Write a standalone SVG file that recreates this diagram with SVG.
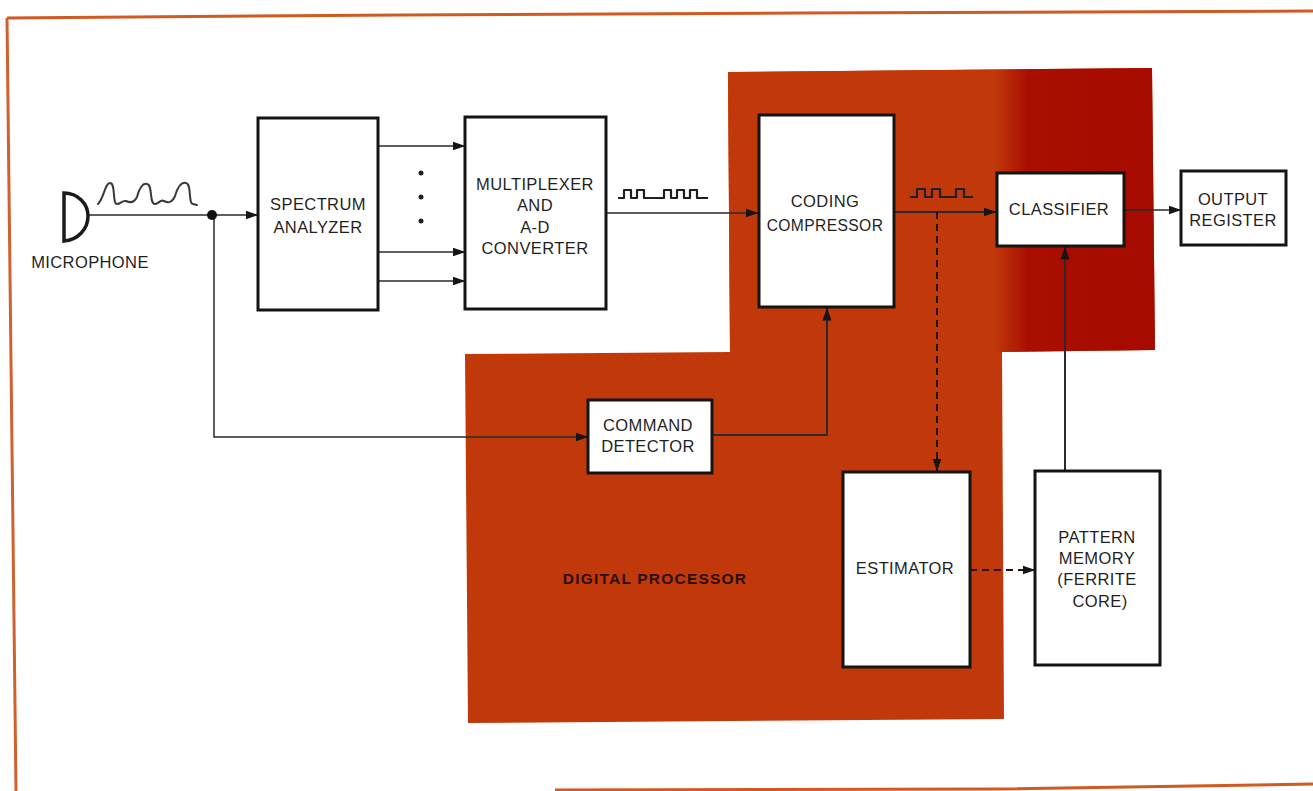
<svg xmlns="http://www.w3.org/2000/svg" width="1313" height="791" viewBox="0 0 1313 791">
<style>
.b{fill:#fff;stroke:#141414;stroke-width:3}
.t{font-family:"Liberation Sans",Arial,sans-serif;font-size:16.5px;fill:#1f1f1f;text-anchor:middle;letter-spacing:.4px}
.c{fill:none;stroke:#2a2a2a;stroke-width:1.5}
.k{fill:none;stroke:#1f1f1f;stroke-width:2.2;stroke-linejoin:round}
.w{fill:none;stroke:#3a3a3a;stroke-width:2;stroke-linecap:round}
.d{fill:none;stroke:#2a1008;stroke-width:2;stroke-dasharray:7 5}
</style>
<defs>
<marker id="a" markerUnits="userSpaceOnUse" markerWidth="13" markerHeight="10" refX="12.5" refY="5" orient="auto"><path d="M0 .5L13 5L0 9.5Z" fill="#151515"/></marker>
<linearGradient id="g" gradientUnits="userSpaceOnUse" x1="720" x2="1160" y1="0" y2="0"><stop offset="0" stop-color="#c1380a"/><stop offset=".625" stop-color="#c1380a"/><stop offset=".7" stop-color="#a90e01"/><stop offset="1" stop-color="#a60a00"/></linearGradient>
</defs>
<rect width="1313" height="791" fill="#fff"/>
<g id="frame" fill="none" stroke-width="3">
<path d="M7 18L400 15L800 13L1313 11" stroke="#d05a22"/>
<path d="M7 18L16 791" stroke="#d06030"/>
<path d="M555 790L1000 789L1313 784" stroke="#d05a22"/>
</g>
<g id="digital-processor">
<path d="M728 72L1152 68L1155 350L1002 352L1004 719L468 723L465 354L730 352Z" fill="#c1380a"/>
<path d="M728 72L1152 68L1155 350L1002 352L730 352Z" fill="url(#g)"/>
<text x="655" y="584" class="t" style="fill:#2a0f06;font-weight:bold;font-size:15.5px;letter-spacing:1.2px">DIGITAL PROCESSOR</text>
</g>
<g id="connectors">
<path class="c" d="M89 215H258" marker-end="url(#a)"/>
<path class="c" d="M214 215V437H588" marker-end="url(#a)"/>
<path class="c" d="M378 146H465" marker-end="url(#a)"/>
<path class="c" d="M378 252H465" marker-end="url(#a)"/>
<path class="c" d="M378 281H465" marker-end="url(#a)"/>
<path class="c" d="M606 213H758" marker-end="url(#a)"/>
<path class="c" style="stroke-width:2" d="M894 212H996" marker-end="url(#a)"/>
<path class="c" style="stroke-width:2" d="M712 435H827V308" marker-end="url(#a)"/>
<path class="d" d="M937 212V471" marker-end="url(#a)"/>
<path class="d" d="M970 570H1035" marker-end="url(#a)"/>
<path class="c" style="stroke-width:2" d="M1065 470V247" marker-end="url(#a)"/>
<path class="c" d="M1125 210H1181" marker-end="url(#a)"/>
<circle cx="212" cy="215" r="5" fill="#111"/>
</g>
<g id="signals">
<path class="w" d="M98 204C104 198 105 183 110 183C116 183 112 204 117 204C121 204 122 200 126 201C130 203 134 203 137 197C140 186 143 183 147 184C153 185 149 204 155 204C159 204 160 199 164 201C168 203 172 203 175 196C178 186 182 182 186 183C192 184 188 204 193 204L197 205"/>
<path class="k" d="M618 198H624V190H631V198H637V190H644V198H664V190H671V198H677V190H684V198H690V190H697V198H708"/>
<path class="k" d="M910 197H917V189H925V197H932V189H940V197H956V189H964V197H973"/>
<circle cx="421" cy="173" r="2.5" fill="#222"/><circle cx="421" cy="197" r="2.5" fill="#222"/><circle cx="421" cy="221" r="2.5" fill="#222"/>
</g>
<g id="microphone"><path d="M64 193C78 193 88 204 88 216C88 229 78 240 64 241Z" fill="#fff" stroke="#1a1a1a" stroke-width="3.5"/><text x="90" y="268" class="t">MICROPHONE</text></g>
<g id="spectrum-analyzer"><rect class="b" x="258" y="118" width="120" height="192"/><text x="318" y="210" class="t">SPECTRUM</text><text x="318" y="233" class="t">ANALYZER</text></g>
<g id="multiplexer"><rect class="b" x="465" y="117" width="141" height="192"/><text x="535" y="190" class="t">MULTIPLEXER</text><text x="535" y="211" class="t">AND</text><text x="535" y="233" class="t">A-D</text><text x="535" y="254" class="t">CONVERTER</text></g>
<g id="coding-compressor"><rect class="b" x="759" y="115" width="135" height="192"/><text x="825" y="207" class="t">CODING</text><text x="825" y="231" class="t" style="font-size:15.6px">COMPRESSOR</text></g>
<g id="classifier"><rect class="b" x="997" y="173" width="127" height="73"/><text x="1059" y="215" class="t">CLASSIFIER</text></g>
<g id="output-register"><rect class="b" x="1181" y="171" width="105" height="74"/><text x="1233" y="205" class="t">OUTPUT</text><text x="1233" y="226" class="t">REGISTER</text></g>
<g id="command-detector"><rect class="b" x="588" y="400" width="124" height="73"/><text x="648" y="431" class="t">COMMAND</text><text x="648" y="452" class="t">DETECTOR</text></g>
<g id="estimator"><rect class="b" x="843" y="472" width="127" height="195"/><text x="905" y="574" class="t">ESTIMATOR</text></g>
<g id="pattern-memory"><rect class="b" x="1035" y="471" width="125" height="194"/><text x="1097" y="543" class="t">PATTERN</text><text x="1097" y="564" class="t">MEMORY</text><text x="1097" y="585" class="t">(FERRITE</text><text x="1100" y="607" class="t">CORE)</text></g>
</svg>
